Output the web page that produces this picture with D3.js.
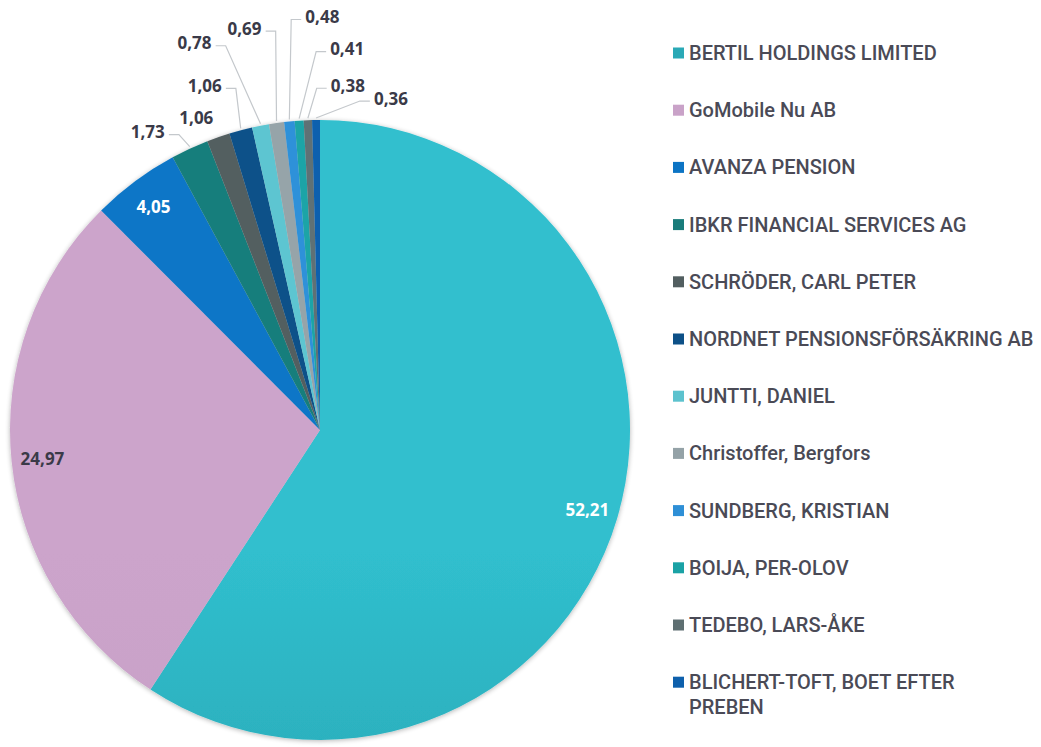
<!DOCTYPE html>
<html>
<head>
<meta charset="utf-8">
<script src="https://cdn.jsdelivr.net/npm/d3@7"></script>
<style>
  body { margin: 0; background: #fff; }
  svg { display: block; }
</style>
</head>
<body>
<div id="chart-area"></div>
<script>
// owners and their share of capital (%); "\n" marks where the legend breaks the line
var owners = [
  "BERTIL HOLDINGS LIMITED",
  "GoMobile Nu AB",
  "AVANZA PENSION",
  "IBKR FINANCIAL SERVICES AG",
  "SCHRÖDER, CARL PETER",
  "NORDNET PENSIONSFÖRSÄKRING AB",
  "JUNTTI, DANIEL",
  "Christoffer, Bergfors",
  "SUNDBERG, KRISTIAN",
  "BOIJA, PER-OLOV",
  "TEDEBO, LARS-ÅKE",
  "BLICHERT-TOFT, BOET EFTER\nPREBEN"
];
var shares = [52.21, 24.97, 4.05, 1.73, 1.06, 1.06, 0.78, 0.69, 0.48, 0.41, 0.38, 0.36];

var colors = ["#2aa9b6", "#c9a2c8", "#0c74c4", "#197c7a", "#525e60", "#0d5087",
              "#5cc2ce", "#94a2a7", "#2e8fd6", "#1aa2a5", "#5e6f72", "#0e60ac"];

// where the small labels sit relative to the slice edge (dx, dy); null = inside label
var labelOffset = [null, null, null, [-42, -17], [-22, -20], [-36, -45], [-66, -83],
                   [-32, -95], [33, -105], [48, -72], [40, -35], [75, -22]];
var noLeader = [4];

const W = 1041, H = 747
const CX = 320, CY = 430, R = 310

const svg = d3.select("#chart-area").append("svg")
  .attr("width", W)
  .attr("height", H)

const defs = svg.append("defs")

const shadow = defs.append("filter").attr("id", "soft")
  .attr("x", "-10%").attr("y", "-10%").attr("width", "120%").attr("height", "120%")
shadow.append("feGaussianBlur").attr("in", "SourceAlpha").attr("stdDeviation", 2.5)
shadow.append("feOffset").attr("dx", 0).attr("dy", 1).attr("result", "b")
shadow.append("feComponentTransfer").append("feFuncA").attr("type", "linear").attr("slope", 0.3)
const merge = shadow.append("feMerge")
merge.append("feMergeNode")
merge.append("feMergeNode").attr("in", "SourceGraphic")

colors.forEach((c, i) => {
  const gr = defs.append("linearGradient").attr("id", "grad" + i)
    .attr("gradientUnits", "userSpaceOnUse")
    .attr("x1", 0).attr("y1", CY - R).attr("x2", 0).attr("y2", CY + R)
  const up = i === 0 ? 0.35 : 0.04, down = i === 0 ? 0.4 : 0.12
  gr.append("stop").attr("offset", "0%").attr("stop-color", d3.color(c).brighter(up))
  gr.append("stop").attr("offset", "100%").attr("stop-color", d3.color(c).darker(down))
})

const data = owners.map((name, i) => ({ name: name, value: shares[i], i: i }))

const pie = d3.pie().value(d => d.value).sort(null)
const arcs = pie(data)
const arc = d3.arc().innerRadius(0).outerRadius(R)

const g = svg.append("g").attr("transform", `translate(${CX},${CY})`)

g.append("g").attr("filter", "url(#soft)")
  .selectAll("path")
  .data(arcs)
  .enter().append("path")
  .attr("d", arc)
  .attr("fill", d => `url(#grad${d.data.i})`)

const fmt = v => d3.format(".2f")(v).replace(".", ",")

// inside labels
const inner = d3.arc().innerRadius(R * 0.9).outerRadius(R * 0.9)
g.selectAll("text.in")
  .data(arcs.filter(d => !labelOffset[d.data.i]))
  .enter().append("text")
  .attr("class", "in")
  .attr("x", d => inner.centroid(d)[0])
  .attr("y", d => inner.centroid(d)[1])
  .attr("text-anchor", "middle")
  .attr("dominant-baseline", "central")
  .style("font-family", "'Open Sans', sans-serif")
  .style("font-weight", 700)
  .style("font-size", "17px")
  .attr("fill", d => d.data.i === 1 ? "#3a3a48" : "#ffffff")
  .text(d => fmt(d.data.value))

// outside labels with leader lines
const edge = d3.arc().innerRadius(R).outerRadius(R)
const outer = arcs.filter(d => labelOffset[d.data.i])
outer.forEach(d => {
  const a = edge.centroid(d)
  const off = labelOffset[d.data.i]
  const lx = a[0] + off[0], ly = a[1] + off[1]
  const t = g.append("text")
    .attr("x", lx).attr("y", ly)
    .attr("text-anchor", "middle")
    .attr("dominant-baseline", "central")
    .style("font-family", "'Open Sans', sans-serif")
    .style("font-weight", 700)
    .style("font-size", "17px")
    .attr("fill", "#3a3a48")
    .text(fmt(d.data.value))
  if (noLeader.includes(d.data.i)) return
  const w = t.node().getBBox().width
  const left = off[0] < 0
  const ex = left ? lx + w / 2 + 4 : lx - w / 2 - 4
  const ey = ly + 3
  const bx = left ? ex + 10 : ex - 10
  g.insert("path", "text")
    .attr("d", d3.line()([[ex, ey], [bx, ey], [a[0], a[1] - 2]]))
    .attr("fill", "none")
    .attr("stroke", "#c4c8cc")
    .attr("stroke-width", 1.2)
})

// legend
const legend = svg.append("g").attr("transform", "translate(673,53)")
const rowH = 57.2
const item = legend.selectAll("g")
  .data(data)
  .enter().append("g")
  .attr("transform", (d, i) => `translate(0,${i * rowH})`)

item.append("rect")
  .attr("x", 0).attr("y", -5.5)
  .attr("width", 11).attr("height", 11)
  .attr("fill", d => colors[d.i])

item.append("text")
  .attr("x", 16)
  .attr("dominant-baseline", "central")
  .style("font-family", "Roboto, sans-serif")
  .style("font-weight", 500)
  .style("font-size", "20px")
  .attr("fill", "#4a4a56")
  .selectAll("tspan")
  .data(d => d.name.split("\n"))
  .enter().append("tspan")
  .attr("x", 16)
  .attr("dy", (s, j) => j ? 25 : 0)
  .text(s => s)
</script>
</body>
</html>
